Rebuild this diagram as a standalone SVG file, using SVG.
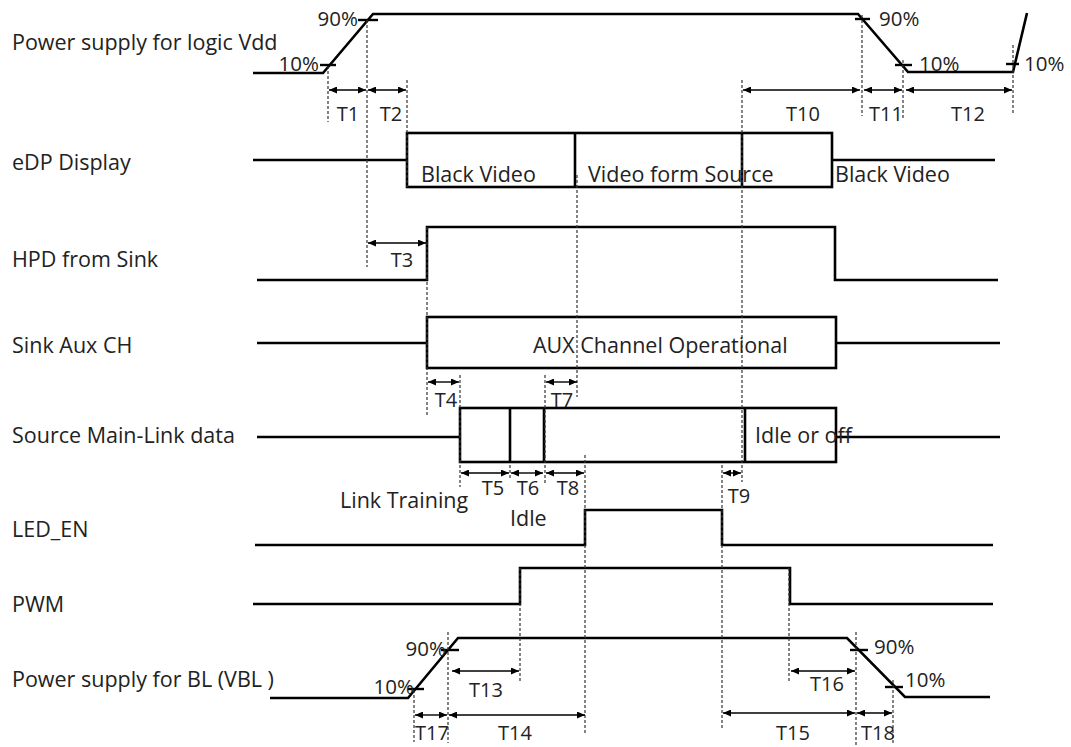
<svg xmlns="http://www.w3.org/2000/svg" width="1071" height="747" viewBox="0 0 1071 747">
<style>
.bg{fill:#ffffff}
.sig{fill:none;stroke:#000;stroke-width:2.6;stroke-linejoin:miter}
.tick{stroke:#000;stroke-width:2.4}
.dash{stroke:#333;stroke-width:1.2;stroke-dasharray:3,2;fill:none}
.dim{stroke:#000;stroke-width:1.4;fill:none;marker-start:url(#ah);marker-end:url(#ah)}
.lbl{font-family:"Open Sans","Noto Sans",sans-serif;font-size:21.5px;fill:#222}
.t{font-family:"Open Sans","Noto Sans",sans-serif;font-size:20px;fill:#222;text-anchor:middle}
.pct{font-family:"Open Sans","Noto Sans",sans-serif;font-size:20.5px;fill:#222}
.pe{text-anchor:end}
</style>
<defs>
<marker id="ah" viewBox="0 0 8 7" refX="8" refY="3.5" markerWidth="8" markerHeight="7" markerUnits="userSpaceOnUse" orient="auto-start-reverse">
<path d="M0,0 L8,3.5 L0,7 z" fill="#000"/>
</marker>
</defs>
<rect class="bg" x="0" y="0" width="1071" height="747"/>

<g id="vdd">
<text class="lbl" x="12" y="50">Power supply for logic Vdd</text>
<polyline class="sig" points="253,73 323,73 373,14 858,14 908,72 1013,72 1027,13"/>
<line class="tick" x1="320" y1="65" x2="336" y2="65"/>
<line class="tick" x1="358" y1="20" x2="378" y2="20"/>
<line class="tick" x1="855" y1="19" x2="870" y2="19"/>
<line class="tick" x1="895" y1="65" x2="912" y2="65"/>
<line class="tick" x1="1006" y1="64" x2="1019" y2="64"/>
<text class="pct pe" x="319" y="71">10%</text>
<text class="pct pe" x="358" y="26">90%</text>
<text class="pct" x="879" y="26">90%</text>
<text class="pct" x="919" y="71">10%</text>
<text class="pct" x="1024" y="71">10%</text>
</g>

<g id="edp">
<text class="lbl" x="12" y="170">eDP Display</text>
<polyline class="sig" points="253,160 407,160"/>
<rect class="sig" x="407" y="133" width="425" height="54"/>
<line class="sig" x1="575" y1="133" x2="575" y2="187"/>
<line class="sig" x1="742" y1="133" x2="742" y2="187"/>
<polyline class="sig" points="832,160 995,160"/>
<text class="lbl" x="421" y="182">Black Video</text>
<text class="lbl" x="588" y="182">Video form Source</text>
<text class="lbl" x="835" y="182">Black Video</text>
</g>

<g id="hpd">
<text class="lbl" x="12" y="267">HPD from Sink</text>
<polyline class="sig" points="257,280 427,280 427,227 835,227 835,280 998,280"/>
</g>

<g id="aux">
<text class="lbl" x="12" y="353">Sink Aux CH</text>
<polyline class="sig" points="257,343 427,343"/>
<rect class="sig" x="427" y="317" width="409" height="51"/>
<polyline class="sig" points="836,343 1000,343"/>
<text class="lbl" x="533" y="353">AUX Channel Operational</text>
</g>

<g id="mainlink">
<text class="lbl" x="12" y="443">Source Main-Link data</text>
<polyline class="sig" points="257,437 460,437"/>
<rect class="sig" x="460" y="408" width="376" height="54"/>
<line class="sig" x1="510" y1="408" x2="510" y2="462"/>
<line class="sig" x1="544" y1="408" x2="544" y2="462"/>
<line class="sig" x1="745" y1="408" x2="745" y2="462"/>
<polyline class="sig" points="836,437 1000,437"/>
<text class="lbl" x="755" y="443">Idle or off</text>
<text class="lbl" x="340" y="508">Link Training</text>
<text class="lbl" x="510" y="526">Idle</text>
</g>

<g id="led_en">
<text class="lbl" x="12" y="537">LED_EN</text>
<polyline class="sig" points="255,545 585,545 585,510 722,510 722,545 993,545"/>
</g>

<g id="pwm">
<text class="lbl" x="12" y="612">PWM</text>
<polyline class="sig" points="253,604 520,604 520,568 790,568 790,604 993,604"/>
</g>

<g id="vbl">
<text class="lbl" x="12" y="687">Power supply for BL (VBL )</text>
<polyline class="sig" points="270,698 408,698 458,638 847,638 905,697 990,697"/>
<line class="tick" x1="408" y1="689" x2="424" y2="689"/>
<line class="tick" x1="441" y1="650" x2="459" y2="650"/>
<line class="tick" x1="850" y1="650" x2="868" y2="650"/>
<line class="tick" x1="885" y1="687" x2="903" y2="687"/>
<text class="pct pe" x="414" y="694">10%</text>
<text class="pct pe" x="446" y="656">90%</text>
<text class="pct" x="874" y="654">90%</text>
<text class="pct" x="905" y="687">10%</text>
</g>

<g id="connectors">
<line class="dash" x1="328" y1="66" x2="328" y2="122"/>
<line class="dash" x1="367" y1="20" x2="367" y2="267"/>
<line class="dash" x1="407" y1="80" x2="407" y2="187"/>
<line class="dash" x1="742" y1="80" x2="742" y2="482"/>
<line class="dash" x1="862" y1="15" x2="862" y2="116"/>
<line class="dash" x1="903" y1="60" x2="903" y2="120"/>
<line class="dash" x1="1013" y1="45" x2="1013" y2="115"/>
<line class="dash" x1="577" y1="175" x2="577" y2="397"/>
<line class="dash" x1="427" y1="227" x2="427" y2="415"/>
<line class="dash" x1="460" y1="375" x2="460" y2="487"/>
<line class="dash" x1="545" y1="375" x2="545" y2="485"/>
<line class="dash" x1="510" y1="465" x2="510" y2="480"/>
<line class="dash" x1="585" y1="455" x2="585" y2="735"/>
<line class="dash" x1="722" y1="465" x2="722" y2="730"/>
<line class="dash" x1="520" y1="568" x2="520" y2="683"/>
<line class="dash" x1="789" y1="568" x2="789" y2="683"/>
<line class="dash" x1="414" y1="690" x2="414" y2="742"/>
<line class="dash" x1="448" y1="632" x2="448" y2="743"/>
<line class="dash" x1="856" y1="632" x2="856" y2="745"/>
<line class="dash" x1="893" y1="680" x2="893" y2="745"/>

<line class="dim" x1="329" y1="90" x2="366" y2="90"/>
<line class="dim" x1="368" y1="90" x2="406" y2="90"/>
<line class="dim" x1="743" y1="90" x2="860" y2="90"/>
<line class="dim" x1="864" y1="90" x2="902" y2="90"/>
<line class="dim" x1="906" y1="90" x2="1012" y2="90"/>
<line class="dim" x1="368" y1="243" x2="426" y2="243"/>
<line class="dim" x1="428" y1="382" x2="459" y2="382"/>
<line class="dim" x1="546" y1="382" x2="577" y2="382"/>
<line class="dim" x1="461" y1="473" x2="509" y2="473"/>
<line class="dim" x1="511" y1="473" x2="543" y2="473"/>
<line class="dim" x1="546" y1="473" x2="584" y2="473"/>
<line class="dim" x1="723" y1="473" x2="741" y2="473"/>
<line class="dim" x1="452" y1="671" x2="519" y2="671"/>
<line class="dim" x1="415" y1="715" x2="447" y2="715"/>
<line class="dim" x1="449" y1="715" x2="585" y2="715"/>
<line class="dim" x1="791" y1="671" x2="855" y2="671"/>
<line class="dim" x1="723" y1="713" x2="855" y2="713"/>
<line class="dim" x1="857" y1="713" x2="892" y2="713"/>

<text class="t" x="348" y="121">T1</text>
<text class="t" x="391" y="121">T2</text>
<text class="t" x="803" y="121">T10</text>
<text class="t" x="886" y="121">T11</text>
<text class="t" x="968" y="121">T12</text>
<text class="t" x="402" y="267">T3</text>
<text class="t" x="446" y="407">T4</text>
<text class="t" x="562" y="407">T7</text>
<text class="t" x="493" y="495">T5</text>
<text class="t" x="528" y="495">T6</text>
<text class="t" x="568" y="495">T8</text>
<text class="t" x="739" y="503">T9</text>
<text class="t" x="486" y="697">T13</text>
<text class="t" x="432" y="740">T17</text>
<text class="t" x="515" y="740">T14</text>
<text class="t" x="827" y="691">T16</text>
<text class="t" x="793" y="740">T15</text>
<text class="t" x="878" y="740">T18</text>
</g>
</svg>
